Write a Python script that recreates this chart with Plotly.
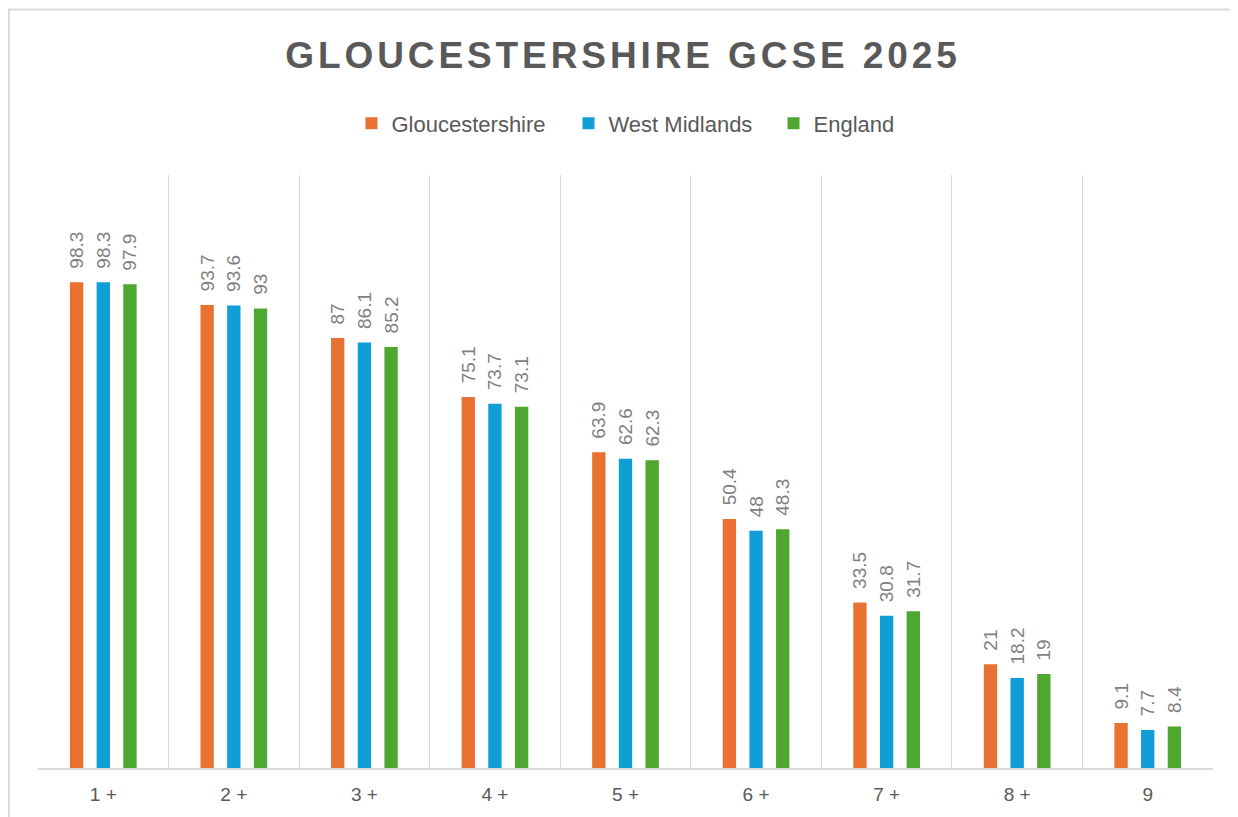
import plotly.graph_objects as go

categories = ["1 +", "2 +", "3 +", "4 +", "5 +", "6 +", "7 +", "8 +", "9"]
gloucestershire = [98.3, 93.7, 87, 75.1, 63.9, 50.4, 33.5, 21, 9.1]
west_midlands = [98.3, 93.6, 86.1, 73.7, 62.6, 48, 30.8, 18.2, 7.7]
england = [97.9, 93, 85.2, 73.1, 62.3, 48.3, 31.7, 19, 8.4]

series = [
    ("Gloucestershire", gloucestershire, "#E97132", 172),
    ("West Midlands", west_midlands, "#0F9ED5", 160),
    ("England", england, "#4EA72E", None),
]

FONT = "Liberation Sans, Arial, sans-serif"
W, H = 1230, 809
L, R, T, B = 30, 25, 167, 47
PW, PH = W - L - R, H - T - B

fig = go.Figure()
for name, vals, color, lw in series:
    kw = {}
    if lw:
        kw["legendwidth"] = lw
    fig.add_trace(go.Bar(
        name=name, x=categories, y=vals,
        marker=dict(color=color, line=dict(width=0)),
        text=[f"{v:g}" for v in vals],
        texttemplate="\u00a0\u00a0%{text}",
        textposition="outside", textangle=-90,
        constraintext="none", cliponaxis=False,
        textfont=dict(family=FONT, size=19, color="#7F7F7F"),
        hoverinfo="skip",
        **kw,
    ))

fig.update_layout(
    width=W, height=H,
    margin=dict(l=L, r=R, t=T, b=B),
    paper_bgcolor="white", plot_bgcolor="white",
    barmode="group", bargap=0.387, bargroupgap=0.5,
    title=dict(
        text='<span style="letter-spacing:3.9px">GLOUCESTERSHIRE GCSE 2025</span>',
        font=dict(family=FONT, size=37, color="#595959", weight="bold"),
        x=0.5, xref="container", xanchor="center",
        y=1 - 47.5 / H, yref="container", yanchor="middle",
    ),
    legend=dict(
        orientation="h", x=0.5, xanchor="center", xref="paper",
        y=1 - 115.5 / H, yref="container", yanchor="middle",
        font=dict(family=FONT, size=22, color="#595959"),
        traceorder="normal", bgcolor="rgba(0,0,0,0)",
    ),
    xaxis=dict(
        type="category", tickson="boundaries", ticks="",
        showgrid=True, gridcolor="#D9D9D9", gridwidth=1.3,
        showline=True, linecolor="#D9D9D9", linewidth=1.8,
        tickfont=dict(family=FONT, size=19, color="#595959"),
        ticklabelstandoff=8,
        zeroline=False, fixedrange=True,
    ),
    yaxis=dict(
        range=[0, 120], visible=False, showgrid=False, zeroline=False,
        fixedrange=True,
    ),
    shapes=[dict(
        type="rect", xref="paper", yref="paper",
        x0=(1 - L) / PW, x1=1 + 60 / PW,
        y0=-80 / PH, y1=1 + (T - 1) / PH,
        line=dict(color="#D9D9D9", width=2), fillcolor="rgba(0,0,0,0)",
        layer="below",
    )],
    showlegend=True,
)

fig.write_html("out.html")
